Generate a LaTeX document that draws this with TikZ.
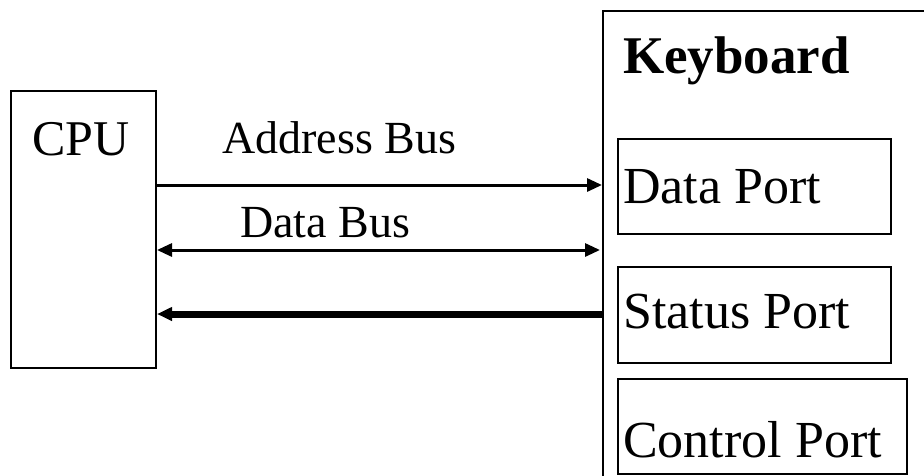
\documentclass[tikz,border=0pt]{standalone}
\usepackage{fontspec}
\setmainfont{Liberation Serif}
\usetikzlibrary{arrows.meta}

\begin{document}
\begin{tikzpicture}[x=1pt,y=-1pt,
                    box/.style={draw,line width=2pt,anchor=north west,inner sep=0pt},
                    big/.style={anchor=base west,inner sep=0pt,font=\fontsize{52}{60}\selectfont},
                    buslabel/.style={anchor=base west,inner sep=0pt,font=\fontsize{46}{54}\selectfont},
                    tip/.style={-{Triangle[length=15pt,width=13pt]}},
                    bus/.style={line width=3pt},
                    thickbus/.style={line width=7pt}]
    \useasboundingbox (0,0) rectangle (924,475);
    \clip (0,0) rectangle (924,475);
    % boxes
    \node[box,minimum width=145pt,minimum height=277pt] (cpu) at (10,90) {};
    \node[box,minimum width=400pt,minimum height=520pt] (kbd) at (602,10) {};
    \node[box,minimum width=273pt,minimum height=95pt] (dport) at (617,138) {};
    \node[box,minimum width=273pt,minimum height=96pt] (sport) at (617,266) {};
    \node[box,minimum width=289pt,minimum height=95pt] (cport) at (617,378) {};
    % texts
    \node[big,font=\fontsize{50}{60}\selectfont] (cpulbl) at (32,155) {CPU};
    \node[big,font=\fontsize{53}{60}\selectfont\bfseries] (kbdlbl) at (623,73) {Keyboard};
    \node[big] (dlbl) at (623,203) {Data Port};
    \node[big] (slbl) at (623,328) {Status Port};
    \node[big] (clbl) at (623,457) {Control Port};
    \node[buslabel] (addrlbl) at (222,153) {Address Bus};
    \node[buslabel] (datalbl) at (240,237) {Data Bus};
    % buses
    \draw[bus,tip] ([yshift=-95pt]cpu.north east) -- ([yshift=-175pt]kbd.north west);
    \draw[bus,{Triangle[length=15pt,width=13pt]}-{Triangle[length=15pt,width=13pt]}]
        ([yshift=-160pt]cpu.north east) -- ([yshift=-240pt,xshift=-2pt]kbd.north west);
    \draw[thickbus,tip] ([yshift=-304pt]kbd.north west) -- ([yshift=-224pt]cpu.north east);
\end{tikzpicture}
\end{document}
